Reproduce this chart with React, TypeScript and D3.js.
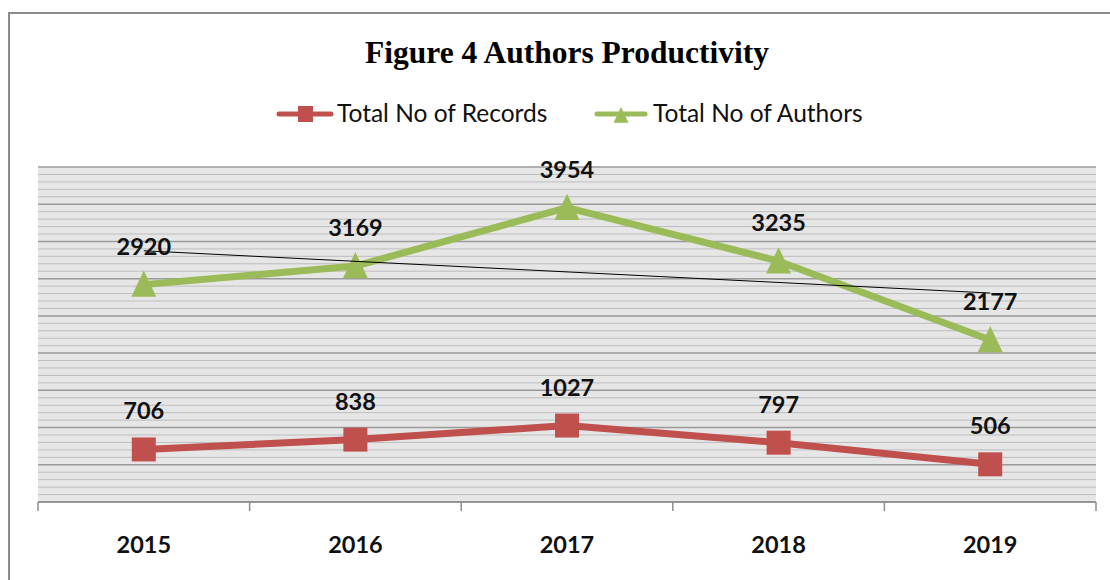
import React from "react";
import * as d3 from "d3";

const years = ["2015", "2016", "2017", "2018", "2019"];
const records = [706, 838, 1027, 797, 506];
const authors = [2920, 3169, 3954, 3235, 2177];
const yMax = 4500;
const majorStep = 500;
const minorStep = 100;

const W = 1110, H = 580;
const M = { left: 38, right: 1096, top: 167, bottom: 502 };
const RED = "#C0504D";
const GREEN = "#9BBB59";
const SANS = "Lato, 'Open Sans', sans-serif";

export default function App() {
  const x = d3.scaleBand<string>().domain(years).range([M.left, M.right]);
  const y = d3.scaleLinear().domain([0, yMax]).range([M.bottom, M.top]);
  const cx = (d: string) => (x(d) ?? 0) + x.bandwidth() / 2;
  const line = d3.line<number>().x((_, i) => cx(years[i])).y((v) => y(v));

  // linear trend of authors
  const n = authors.length;
  const xs = authors.map((_, i) => i);
  const mx = d3.mean(xs)!, my = d3.mean(authors)!;
  const slope = d3.sum(xs.map((xi, i) => (xi - mx) * (authors[i] - my))) / d3.sum(xs.map((xi) => (xi - mx) ** 2));
  const t0 = my + slope * (0 - mx);
  const t1 = my + slope * (n - 1 - mx);

  const minors = d3.range(0, yMax + 1, minorStep);
  const ticksX = [...years.map((d) => x(d) ?? 0), M.right];

  const tri = (px: number, py: number, s: number) =>
    `M${px},${py - s * 0.6} L${px + s / 2},${py + s * 0.45} L${px - s / 2},${py + s * 0.45} Z`;

  return (
    <div style={{ position: "absolute", left: 0, top: 0 }}>
      <svg width={W} height={H} style={{ display: "block" }}>
        <rect x={0} y={0} width={W} height={H} fill="#fff" />
        <rect x={9} y={13} width={W + 20} height={H + 20} fill="#fff" stroke="#8c8c8c" strokeWidth={2} />
        <text x={567} y={63} textAnchor="middle" fontFamily="'Liberation Serif', 'Times New Roman', serif" fontWeight="bold" fontSize={31.5}>
          Figure 4 Authors Productivity
        </text>
        {/* legend */}
        <g>
          <line x1={279} x2={331} y1={114} y2={114} stroke={RED} strokeWidth={5} strokeLinecap="round" />
          <rect x={298} y={106} width={15} height={16} fill={RED} />
          <text x={337} y={122} fontFamily={SANS} fontSize={24.5} fill="#111">Total No of Records</text>
          <line x1={597} x2={645} y1={114} y2={114} stroke={GREEN} strokeWidth={5} strokeLinecap="round" />
          <path d={tri(621, 116, 15)} fill={GREEN} />
          <text x={653} y={122} fontFamily={SANS} fontSize={24.5} fill="#111">Total No of Authors</text>
        </g>
        {/* plot area */}
        <rect x={M.left} y={M.top} width={M.right - M.left} height={M.bottom - M.top} fill="#E6E6E6" />
        {minors.map((v) => (
          <line key={v} x1={M.left} x2={M.right} y1={y(v)} y2={y(v)}
            stroke={v % majorStep === 0 ? "#9a9a9a" : "#bdbdbd"} strokeWidth={v % majorStep === 0 ? 1.5 : 1} />
        ))}
        {/* x axis */}
        <line x1={M.left} x2={M.right} y1={M.bottom} y2={M.bottom} stroke="#8c8c8c" strokeWidth={1.5} />
        {ticksX.map((t, i) => (
          <line key={i} x1={t} x2={t} y1={M.bottom} y2={M.bottom + 9} stroke="#8c8c8c" strokeWidth={1.5} />
        ))}
        {years.map((d) => (
          <text key={d} x={cx(d)} y={553} textAnchor="middle" fontFamily={SANS} fontWeight="bold" fontSize={23.5} fill="#111">{d}</text>
        ))}
        {/* series */}
        <path d={line(authors) ?? ""} fill="none" stroke={GREEN} strokeWidth={7} strokeLinejoin="round" />
        {authors.map((v, i) => (
          <path key={i} d={tri(cx(years[i]), y(v) + 1, 25)} fill={GREEN} />
        ))}
        <path d={line(records) ?? ""} fill="none" stroke={RED} strokeWidth={7} strokeLinejoin="round" />
        {records.map((v, i) => (
          <rect key={i} x={cx(years[i]) - 12} y={y(v) - 12} width={24} height={24} fill={RED} />
        ))}
        {/* trendline */}
        <line x1={cx(years[0])} x2={cx(years[n - 1])} y1={y(t0)} y2={y(t1)} stroke="#000" strokeWidth={1} />
        {/* labels */}
        {authors.map((v, i) => (
          <text key={i} x={cx(years[i])} y={y(v) - 30} textAnchor="middle" fontFamily={SANS} fontWeight="bold" fontSize={23.5} fill="#111">{v}</text>
        ))}
        {records.map((v, i) => (
          <text key={i} x={cx(years[i])} y={y(v) - 30} textAnchor="middle" fontFamily={SANS} fontWeight="bold" fontSize={23.5} fill="#111">{v}</text>
        ))}
      </svg>
    </div>
  );
}
